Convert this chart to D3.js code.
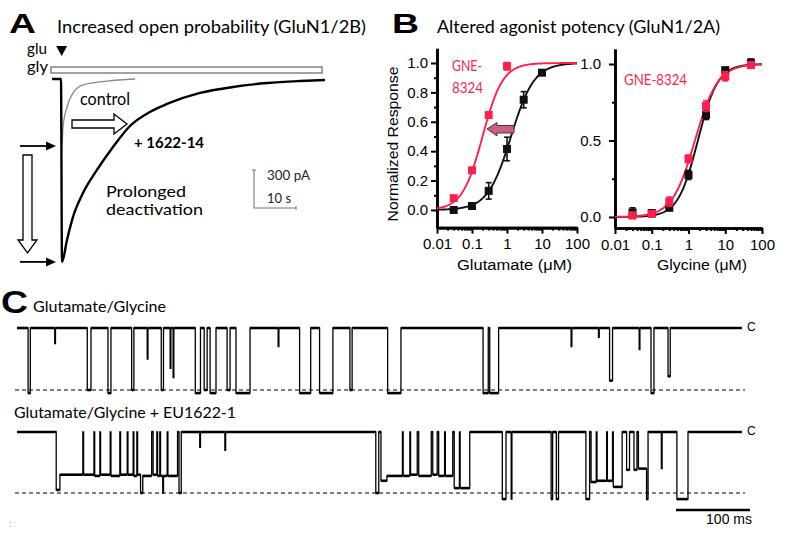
<!DOCTYPE html>
<html><head><meta charset="utf-8">
<script src="https://cdn.jsdelivr.net/npm/d3@7"></script>
<style>
body{margin:0;background:#fff}
svg{display:block}
.cal{font-family:Lato,"Open Sans",sans-serif}
.ari{font-family:"Liberation Sans",Arial,sans-serif}
</style></head>
<body><svg id="c" width="802" height="538"></svg>
<script>
// ================= DATA =================
// Panel A: whole-cell currents (time in s, current in pA)
const aTime1622   = [0, 2.14, 2.38, 3.57, 5.0, 7.38, 10.71, 14.52, 18.57, 23.33, 27.38, 35.24, 43.1, 51.2, 59.05, 65];
const aCurr1622   = [0, 0, -1444, -1271, -1089, -900, -718, -537, -371, -260, -197, -110, -63, -32, -16, -8];
const aTimeCtrl   = [2.14, 2.38, 2.62, 3.57, 5.0, 7.38, 13.1, 19.8];
const aCurrCtrl   = [0, -529, -379, -221, -110, -47, -16, 0];
const aGluTime    = 2.3;
const aGlyPeriod  = [-0.24, 64.3];
const aScaleBar   = [10, 300]; // s, pA

// Panel B: concentration-response (µM, normalized response)
const bXTicks      = [0.01, 0.1, 1, 10, 100];
const bXTickLabels = ["0.01", "0.1", "1", "10", "100"];
const bGluConc     = [0.03, 0.1, 0.3, 1, 3, 10];
const bGluCtrl     = [0.0, 0.027, 0.13, 0.415, 0.75, 0.934];
const bGluCtrlErr  = [0.01, 0.01, 0.056, 0.08, 0.055, 0.015];
const bGluGNEConc  = [0.03, 0.1, 0.3, 1];
const bGluGNE      = [0.08, 0.27, 0.646, 0.978];
const bGluGNEErr   = [0.012, 0.015, 0.01, 0.025];
const bGluCtrlFit  = [1.3, 1.31];  // EC50 µM, Hill slope
const bGluGNEFit   = [0.2, 1.5];
const bGlyConc     = [0.03, 0.1, 0.3, 1, 3, 10, 50];
const bGlyCtrl     = [0.03, 0.026, 0.06, 0.275, 0.667, 0.96, 1.008];
const bGlyCtrlErr  = [0.03, 0.02, 0.015, 0.03, 0.03, 0.015, 0.025];
const bGlyGNE      = [0.01, 0.02, 0.1, 0.38, 0.725, 0.92, 0.993];
const bGlyGNEErr   = [0.02, 0.02, 0.03, 0.025, 0.035, 0.03, 0.02];
const bGlyCtrlFit  = [1.8, 1.6];
const bGlyGNEFit   = [1.5, 1.4];
const bGluYTicks   = [0, 0.2, 0.4, 0.6, 0.8, 1.0];
const bGluYMinor   = [0.1, 0.3, 0.5, 0.7, 0.9];
const bGlyYTicks   = [0, 0.5, 1.0];
const bGlyYMinor   = [0.25, 0.75];

// Panel C: single-channel events [start ms, end ms, fraction of unitary amplitude]
const cDuration = 980;
const cEventsControl = [
 [15,18,1.05],[51,52,0.25],[95,100,1.0],[123,127,1.05],[155,158,1.0],[176,177,0.5],
 [195,198,1.0],[207,208,0.65],[211,212,0.8],[241,248,1.05],[253,257,1.0],[261,269,1.05],
 [284,288,1.0],[296,315,1.05],[353,354,0.3],[382,397,1.05],[409,427,1.05],[450,453,1.0],
 [501,519,1.05],[630,637,1.05],[639,651,1.05],[749,750,0.3],[786,787,0.15],[801,805,0.85],
 [841,842,0.35],[857,861,1.05],[880,883,0.78]
];
const cEventsEU = [
 [53,58,0.95],[58,89,0.7],[90,104,0.7],[105,112,0.72],[113,126,0.7],[127,139,0.72],
 [140,149,0.7],[150,157,0.7],[158,162,0.72],[163,167,0.7],[167,170,1.0],[170,182,0.72],
 [184,189,0.7],[190,193,0.72],[194,197,0.72],[197,198,1.0],[198,203,0.72],[204,217,0.72],
 [219,222,1.0],[247,248,0.25],[281,282,0.3],
 [485,489,1.0],[492,500,0.8],[500,521,0.72],[522,531,0.72],[532,541,0.7],[543,560,0.72],
 [562,568,0.7],[570,578,0.72],[579,589,0.72],[591,598,0.92],[599,612,0.92],
 [656,661,1.1],[668,669,1.1],[722,724,1.1],[729,732,1.1],[769,774,1.1],[776,783,0.82],
 [784,797,0.8],[798,805,0.8],[806,818,0.9],[824,828,0.62],[834,838,0.62],[840,851,0.6],
 [851,853,1.1],[871,872,0.6],[892,907,1.1]
];
const cScaleBarMs = 100;

// ================= DRAW =================
const svg = d3.select("#c");
const RED = "#ff1f4a";

function txt(x, y, s, opt) {
  const t = svg.append("text").attr("x", x).attr("y", y).text(s)
    .attr("class", opt.cls || "cal")
    .attr("font-size", opt.size || 16)
    .attr("fill", opt.fill || "#000");
  if (opt.weight) t.attr("font-weight", opt.weight);
  if (opt.len) t.attr("textLength", opt.len).attr("lengthAdjust", "spacingAndGlyphs");
  if (opt.anchor) t.attr("text-anchor", opt.anchor);
  return t;
}

// ---------- Panel A ----------
txt(9, 33, "A", {cls: "ari", size: 27, weight: "bold", len: 27});
txt(57, 33, "Increased open probability  (GluN1/2B)", {size: 17, len: 309});
txt(27, 54, "glu", {size: 16, len: 20});
txt(27, 72, "gly", {size: 16, len: 21});

const xA = d3.scaleLinear().domain([0, 10]).range([52, 94]);
const yA = d3.scaleLinear().domain([0, -300]).range([79, 117]);

svg.append("rect").attr("x", xA(aGlyPeriod[0])).attr("y", 67)
  .attr("width", xA(aGlyPeriod[1]) - xA(aGlyPeriod[0])).attr("height", 6)
  .attr("fill", "#fff").attr("stroke", "#555").attr("stroke-width", 1.1);
const gx = xA(aGluTime);
svg.append("path").attr("d", `M${gx-5.5},46 L${gx+5.5},46 L${gx},56 Z`).attr("fill", "#000");

const lineA = d3.line().x(d => xA(d[0])).y(d => yA(d[1])).curve(d3.curveMonotoneX);
svg.append("path").attr("d", lineA(aTimeCtrl.map((t, i) => [t, aCurrCtrl[i]])))
  .attr("fill", "none").attr("stroke", "#8a8a8a").attr("stroke-width", 1.3);
svg.append("path").attr("d", lineA(aTime1622.map((t, i) => [t, aCurr1622[i]])))
  .attr("fill", "none").attr("stroke", "#000").attr("stroke-width", 2.4);

function hArrow(y) {
  svg.append("line").attr("x1", 20).attr("x2", 48).attr("y1", y).attr("y2", y)
    .attr("stroke", "#000").attr("stroke-width", 1.8);
  svg.append("path").attr("d", `M46,${y-4.5} L56,${y} L46,${y+4.5} Z`).attr("fill", "#000");
}
hArrow(yA(d3.min(aCurrCtrl)));
hArrow(yA(d3.min(aCurr1622)));
svg.append("path").attr("d", "M23,155 L32,155 L32,240 L37,240 L27.5,253 L18,240 L23,240 Z")
  .attr("fill", "#fff").attr("stroke", "#000").attr("stroke-width", 1.3);
svg.append("path").attr("d", "M72,120 L114,120 L114,114 L127,124 L114,134 L114,128 L72,128 Z")
  .attr("fill", "#fff").attr("stroke", "#000").attr("stroke-width", 1.3);

txt(80, 105, "control", {size: 17, len: 50});
txt(134, 148, "+ 1622-14", {size: 16, weight: "bold", len: 70});
txt(106, 197, "Prolonged", {size: 15, len: 80});
txt(106, 215, "deactivation", {size: 15, len: 97});

const sbx = 254, sby = 208;
const sbW = xA(aScaleBar[0]) - xA(0), sbH = yA(-aScaleBar[1]) - yA(0);
svg.append("path").attr("d", `M${sbx},${sby - sbH} V${sby} H${sbx + sbW}`)
  .attr("fill", "none").attr("stroke", "#777").attr("stroke-width", 1.1);
svg.append("line").attr("x1", sbx - 2).attr("x2", sbx + 2).attr("y1", sby - sbH).attr("y2", sby - sbH).attr("stroke", "#777");
svg.append("line").attr("x1", sbx + sbW).attr("x2", sbx + sbW).attr("y1", sby - 2).attr("y2", sby + 2).attr("stroke", "#777");
txt(267, 180, aScaleBar[1] + " pA", {size: 14, len: 43, fill: "#222"});
txt(267, 203, aScaleBar[0] + " s", {size: 14, len: 24, fill: "#222"});

// ---------- Panel B ----------
txt(392, 33, "B", {cls: "ari", size: 27, weight: "bold", len: 27});
txt(437, 33, "Altered agonist potency (GluN1/2A)", {size: 17, len: 283});

function hill(p) { return c => 1 / (1 + Math.pow(p[0] / c, p[1])); }
const fitConc = d3.range(0, 201).map(i => Math.pow(10, -2 + 4 * i / 200));

function drawPlot(cfg) {
  const g = svg.append("g");
  const x = d3.scaleLog().domain([0.01, 100]).range(cfg.xr);
  const y = d3.scaleLinear().domain(cfg.yd).range(cfg.yr);
  const ax = g.append("g").attr("transform", `translate(0,${cfg.yr[0]})`)
    .call(d3.axisBottom(x).tickValues(bXTicks).tickFormat((d, i) => bXTickLabels[i]).tickSize(6).tickSizeOuter(0).tickPadding(5));
  const minorX = [];
  bXTicks.slice(0, -1).forEach(t => { for (let k = 2; k < 10; k++) minorX.push(t * k); });
  const axm = g.append("g").attr("transform", `translate(0,${cfg.yr[0]})`)
    .call(d3.axisBottom(x).tickValues(minorX).tickFormat("").tickSize(3).tickSizeOuter(0));
  const ay = g.append("g").attr("transform", `translate(${cfg.xr[0]},0)`)
    .call(d3.axisLeft(y).tickValues(cfg.yt).tickFormat(d3.format(".1f")).tickSize(6).tickSizeOuter(0).tickPadding(cfg.ypad));
  const aym = g.append("g").attr("transform", `translate(${cfg.xr[0]},0)`)
    .call(d3.axisLeft(y).tickValues(cfg.ym).tickFormat("").tickSize(3).tickSizeOuter(0));
  [ax, axm, ay, aym].forEach(a => {
    a.select(".domain").attr("stroke-width", 2.6).attr("stroke", "#000");
    a.selectAll(".tick line").attr("stroke-width", 2).attr("stroke", "#000");
    a.selectAll("text").attr("font-family", "Liberation Sans, Arial, sans-serif").attr("font-size", 15).attr("fill", "#000");
  });
  const ln = d3.line().x(d => x(d[0])).y(d => y(d[1]));
  cfg.fits.forEach(f => {
    g.append("path").attr("d", ln(fitConc.map(c => [c, hill(f.p)(c)])))
      .attr("fill", "none").attr("stroke", f.color).attr("stroke-width", 1.9);
  });
  cfg.pts.forEach(s => {
    s.conc.forEach((c, i) => {
      const cx = x(c), v = s.vals[i], e = s.err[i];
      g.append("line").attr("x1", cx).attr("x2", cx).attr("y1", y(v - e)).attr("y2", y(v + e))
        .attr("stroke", s.color).attr("stroke-width", 1.6);
      [v - e, v + e].forEach(w => g.append("line").attr("x1", cx - 3).attr("x2", cx + 3)
        .attr("y1", y(w)).attr("y2", y(w)).attr("stroke", s.color).attr("stroke-width", 1.6));
      g.append("rect").attr("x", cx - 4).attr("y", y(v) - 4).attr("width", 8).attr("height", 8).attr("fill", s.color);
    });
  });
  return {x, y};
}

drawPlot({
  xr: [437, 577], yd: [-0.12, 1.1], yr: [227.6, 48.3], yt: bGluYTicks, ym: bGluYMinor, ypad: 3,
  fits: [{p: bGluCtrlFit, color: "#111"}, {p: bGluGNEFit, color: RED}],
  pts: [{conc: bGluConc, vals: bGluCtrl, err: bGluCtrlErr, color: "#111"},
        {conc: bGluGNEConc, vals: bGluGNE, err: bGluGNEErr, color: RED}]
});
drawPlot({
  xr: [615, 762], yd: [-0.072, 1.098], yr: [228, 49], yt: bGlyYTicks, ym: bGlyYMinor, ypad: 8,
  fits: [{p: bGlyCtrlFit, color: "#111"}, {p: bGlyGNEFit, color: RED}],
  pts: [{conc: bGlyConc, vals: bGlyCtrl, err: bGlyCtrlErr, color: "#111"},
        {conc: bGlyConc, vals: bGlyGNE, err: bGlyGNEErr, color: RED}]
});

svg.append("path").attr("d", "M487,129 L497,122.5 L497,125.5 L514,125.5 L514,133 L497,133 L497,136 Z")
  .attr("fill", "#c9607f").attr("stroke", "#5a2a3a").attr("stroke-width", 1);

txt(452, 71, "GNE-", {size: 16, fill: RED, len: 30});
txt(452, 93, "8324", {size: 16, fill: RED, len: 31});
txt(624, 85, "GNE-8324", {size: 16, fill: RED, len: 63});

svg.append("text").attr("class", "ari").attr("font-size", 15.5)
  .attr("transform", "translate(398,144) rotate(-90)").attr("text-anchor", "middle")
  .attr("textLength", 155).attr("lengthAdjust", "spacingAndGlyphs").text("Normalized Response");
txt(457, 270, "Glutamate (\u03bcM)", {cls: "ari", size: 15.5, len: 115});
txt(657, 270, "Glycine (\u03bcM)", {cls: "ari", size: 15.5, len: 90});

// ---------- Panel C ----------
txt(1, 313, "C", {cls: "ari", size: 31, weight: "bold", len: 27});
txt(33, 312, "Glutamate/Glycine", {size: 15, len: 133});
txt(14, 418, "Glutamate/Glycine + EU1622-1", {size: 15, len: 222});

const xC = d3.scaleLinear().domain([0, cDuration]).range([17, 742]);
function tracePts(ev) {
  const pts = [[0, 0]];
  ev.forEach((e, i) => {
    const prev = ev[i - 1], next = ev[i + 1];
    if (!prev || prev[1] !== e[0]) pts.push([e[0], 0]);
    pts.push([e[0], e[2]], [e[1], e[2]]);
    if (!next || next[0] !== e[1]) pts.push([e[1], 0]);
  });
  pts.push([cDuration, 0]);
  return pts;
}
function drawTrace(ev, yClosed, yOpen) {
  const y = d3.scaleLinear().domain([0, 1]).range([yClosed, yOpen]);
  svg.append("line").attr("x1", 15).attr("x2", 745).attr("y1", y(1)).attr("y2", y(1))
    .attr("stroke", "#000").attr("stroke-width", 1.1).attr("stroke-dasharray", "4,3");
  const pts = tracePts(ev);
  const ln = d3.line().x(d => xC(d[0])).y(d => y(d[1]));
  svg.append("path").attr("d", ln(pts))
    .attr("fill", "none").attr("stroke", "#000").attr("stroke-width", 1.3);
  for (let i = 1; i < pts.length; i++) {
    if (pts[i][1] === pts[i - 1][1] && pts[i][0] - pts[i - 1][0] >= 2) {
      svg.append("path").attr("d", ln([pts[i - 1], pts[i]]))
        .attr("stroke", "#000").attr("stroke-width", 2.6);
    }
  }
  txt(747, y(0) + 3, "C", {cls: "ari", size: 12});
}
drawTrace(cEventsControl, 328, 390);
drawTrace(cEventsEU, 432, 493);

const sbL = xC(cScaleBarMs) - xC(0);
svg.append("line").attr("x1", 750 - sbL).attr("x2", 750).attr("y1", 510).attr("y2", 510)
  .attr("stroke", "#000").attr("stroke-width", 2.6);
txt(752, 524, cScaleBarMs + " ms", {cls: "ari", size: 14, anchor: "end"});
txt(9, 527, ":", {cls: "ari", size: 9, fill: "#999"});
</script></body></html>
